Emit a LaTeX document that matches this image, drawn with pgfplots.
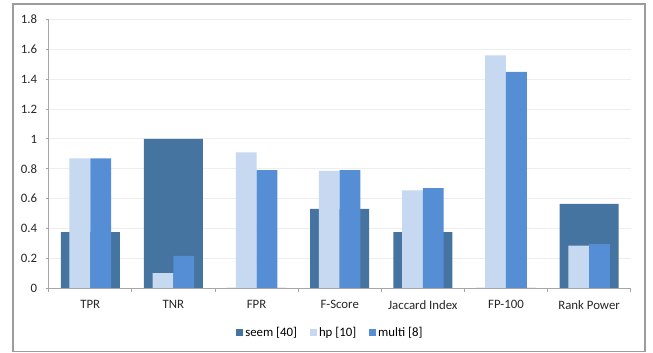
\documentclass[border=0pt]{standalone}
\usepackage{fontspec}
\setmainfont{Carlito}
\usepackage{pgfplots}
\pgfplotsset{compat=1.18}

\definecolor{seemc}{HTML}{4674A1}
\definecolor{hpc}{HTML}{C6D9F0}
\definecolor{multic}{HTML}{558ED5}
\definecolor{axisgray}{HTML}{A6A6A6}
\definecolor{gridgray}{HTML}{EEEEEE}
\definecolor{framegray}{HTML}{9C9C9C}

\begin{document}
\begin{tikzpicture}[x=1pt,y=1pt]
\useasboundingbox (0,0) rectangle (653,353);
\draw[draw=framegray, line width=1.3pt] (13,1.5) rectangle (645,349);
\begin{axis}[
  at={(48.7pt,65pt)}, anchor=south west,
  scale only axis, width=582pt, height=268.4pt,
  xmin=-0.5, xmax=6.5, ymin=0, ymax=1.8,
  enlargelimits=false,
  ybar,
  axis lines*=left,
  axis line style={draw=axisgray, line width=0.8pt},
  ymajorgrids, grid style={draw=gridgray, line width=0.9pt},
  ytick={0,0.2,0.4,0.6,0.8,1,1.2,1.4,1.6,1.8},
  xtick={0,1,2,3,4,5,6},
  xticklabels={TPR,TNR,FPR,F-Score,Jaccard Index,FP-100,Rank Power},
  minor xtick={-0.5,0.5,1.5,2.5,3.5,4.5,5.5,6.5},
  tick align=outside,
  major tick length=3pt, minor tick length=4pt,
  tick style={draw=axisgray, line width=0.8pt},
  every major x tick/.append style={draw=none},
  /pgf/number format/assume math mode=true,
  /pgf/number format/fixed,
  ticklabel style={font=\fontsize{12.8}{15}\selectfont, text=black!85},
  yticklabel style={xshift=-5pt},
  xticklabel style={yshift=-6pt},
  legend image code/.code={\fill[#1] (0pt,-3.5pt) rectangle (7pt,3.5pt);},
  legend style={at={(0.484,-0.1665)}, anchor=center, draw=none, fill=none,
    legend columns=3, font=\fontsize{12.8}{15}\selectfont,
    /tikz/every even column/.append style={column sep=11pt},
    inner sep=0pt},
]
\addplot[fill=seemc, draw=none, bar width=0.71, bar shift=0]
  coordinates {(0,0.375) (1,1.0) (2,0) (3,0.53) (4,0.375) (5,0) (6,0.565)};
\addplot[fill=hpc, draw=none, bar width=0.25, bar shift=-0.125]
  coordinates {(0,0.87) (1,0.10) (2,0.91) (3,0.785) (4,0.655) (5,1.56) (6,0.285)};
\addplot[fill=multic, draw=none, bar width=0.25, bar shift=0.125]
  coordinates {(0,0.87) (1,0.215) (2,0.79) (3,0.79) (4,0.67) (5,1.45) (6,0.295)};
\legend{seem [40], hp [10], multi [8]}
\end{axis}
\end{tikzpicture}
\end{document}
